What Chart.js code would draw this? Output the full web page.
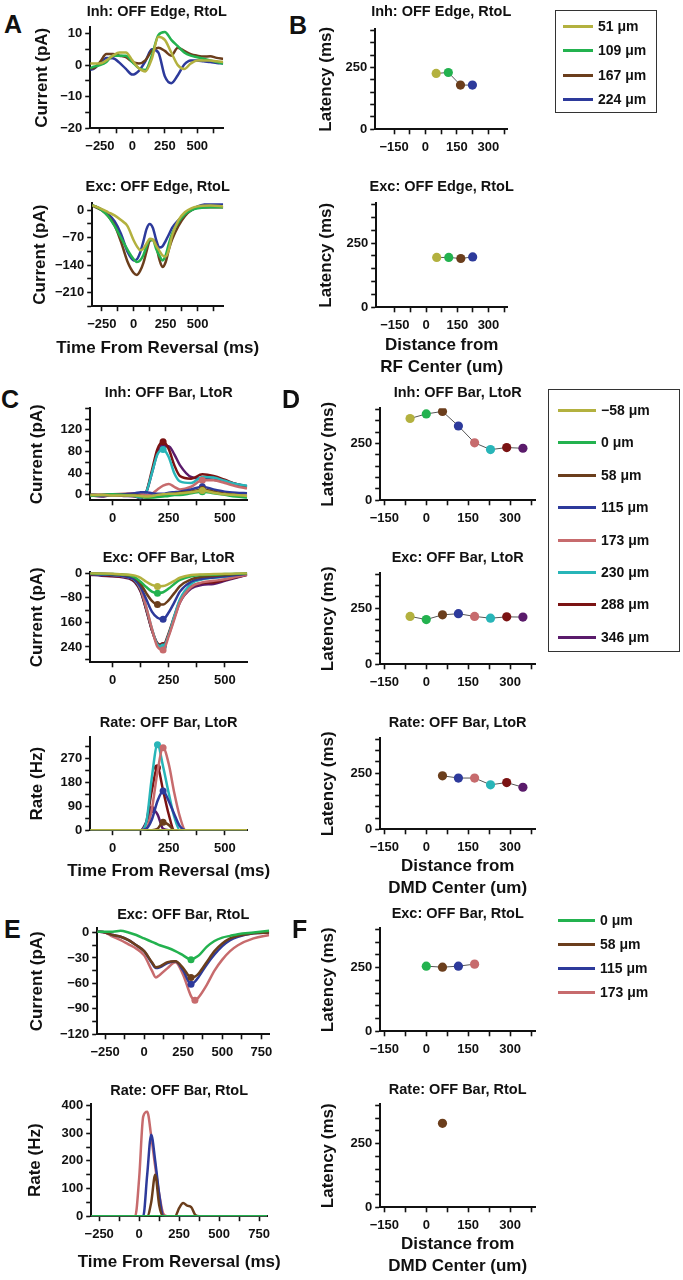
<!DOCTYPE html>
<html>
<head>
<meta charset="utf-8">
<script src="https://cdn.jsdelivr.net/npm/chart.js@4/dist/chart.umd.min.js"></script>
<style>
  body { margin: 0; background: #fff; }
  #page { position: relative; width: 683px; height: 1280px; overflow: hidden; background: #fff;
          font-family: "Liberation Sans", Arial, sans-serif; font-weight: bold; color: #111; }
  .box { position: absolute; }
  .letter { position: absolute; font-size: 25px; line-height: 26px; font-weight: bold; }
  .legend { position: absolute; box-sizing: border-box; }
  .legend .row { position: absolute; left: 0; height: 18px; font-size: 14px; line-height: 18px; white-space: nowrap; }
  .legend .swatch { position: absolute; top: 8px; height: 3px; }
</style>
</head>
<body>
<div id="page"></div>
<script>
// colours of the stimulus positions
const cOlive = '#b3b13f', cGreen = '#23b24f', cBrown = '#6b3e1c', cBlue = '#2d3a9b';
const cPink = '#c76b6d', cCyan = '#28b5b8', cDarkRed = '#7b1313', cPurple = '#5a1b6b';

// A / B : OFF edge, right to left
const edgeDist = [51, 109, 167, 224];
const edgeLabels = ['51 μm', '109 μm', '167 μm', '224 μm'];
const edgeColors = [cOlive, cGreen, cBrown, cBlue];

const timeInhEdge = [-325, -300, -250, -200, -150, -100, -50, 0, 50, 100, 150, 200, 250, 300, 350, 400, 450, 500, 550, 600, 650, 700];
const inhEdge51  = [0.5, 0.5, 0.5, 1.5, 3, 4, 4, 1.5, -1, -2, 2, 9, 8, 4, 0, -1.2, 0.5, 1.5, 1.5, 1.5, 1.2, 1];
const inhEdge109 = [-1, -0.5, 0, 1, 3, 3, 3, 1, -1, -1.5, 3, 9.5, 10.5, 8, 6, 4, 3, 2.5, 2, 1.5, 1, 0.5];
const inhEdge167 = [-1, -1, 1, 3.5, 3.5, 3, 2.5, 1, 0.5, 1.5, 4.5, 5.5, 4.5, 3, 5.5, 4.5, 3.5, 3, 2.7, 2.8, 2.3, 2];
const inhEdge224 = [-1.5, -1.2, 0.5, 2.3, 2.2, 0.8, -1.2, -3, -1.8, 1.2, 5, 4, -3.5, -5.7, -3.2, 0.2, 1.5, 1.5, 1.2, 1, 0.7, 0.5];

const timeExcEdge = [-325, -300, -250, -200, -150, -100, -50, 0, 25, 50, 75, 100, 125, 150, 175, 200, 225, 250, 275, 300, 350, 400, 450, 500, 600, 700];
const excEdge51  = [13, 10, 3, -5, -13, -25, -40, -77, -92, -102, -98, -85, -73, -75, -90, -103, -115, -118, -100, -65, -25, -5, 5, 10, 12, 10];
const excEdge109 = [13, 10, 0, -15, -40, -70, -100, -125, -132, -128, -115, -92, -75, -76, -98, -115, -128, -115, -85, -60, -30, -10, 0, 5, 8, 8];
const excEdge167 = [13, 8, 0, -15, -38, -80, -130, -160, -165, -155, -135, -105, -78, -75, -90, -125, -145, -132, -100, -75, -40, -15, 0, 7, 8, 8];
const excEdge224 = [13, 10, 2, -10, -28, -60, -105, -128, -125, -108, -80, -48, -35, -45, -75, -95, -92, -78, -62, -45, -25, -10, 0, 10, 17, 17];

const latInhEdge = [226, 230, 179, 179];
const latExcEdge = [194, 194, 190, 196];

// C / D : OFF bar, left to right
const barDist = [-58, 0, 58, 115, 173, 230, 288, 346];
const barLabels = ['−58 μm', '0 μm', '58 μm', '115 μm', '173 μm', '230 μm', '288 μm', '346 μm'];
const barColors = [cOlive, cGreen, cBrown, cBlue, cPink, cCyan, cDarkRed, cPurple];

const timeInhBar = [-100, -50, 0, 50, 100, 125, 150, 175, 200, 225, 250, 275, 300, 350, 400, 450, 500, 550, 600];
const inhBarM58 = [0, 0, -1, -1, -1, -2, -3, -2, 0, 1, 2, 2, 3, 5, 8, 4, 1, 0, -2];
const inhBar0   = [-2, 0, 1, 0, -2, -3, -5, -5, -4, -3, -2, 0, 0, 3, 6, 3, 0, -3, -5];
const inhBar58  = [0, 0, 0, 0, 0, -2, -5, -4, -2, 0, 0, 2, 4, 6, 10, 6, 2, 0, -2];
const inhBar115 = [0, -1, 0, 1, 3, 5, 5, 3, 2, 2, 4, 5, 6, 10, 15, 10, 6, 4, 3];
const inhBar173 = [0, 0, 1, 2, 3, 2, 0, 2, 10, 17, 20, 15, 10, 15, 27, 27, 22, 16, 12];
const inhBar230 = [0, -1, 0, 1, -2, -5, 5, 40, 75, 84, 70, 40, 25, 22, 33, 32, 26, 20, 17];
const inhBar288 = [0, 0, 0, 0, -2, -5, 5, 45, 85, 98, 85, 55, 35, 30, 38, 35, 28, 20, 15];
const inhBar346 = [-1, -3, 0, -2, -3, -6, 5, 40, 78, 90, 90, 75, 55, 33, 30, 28, 25, 20, 16];

const timeExcBar = [-100, -50, 0, 50, 75, 100, 125, 150, 175, 200, 225, 250, 275, 300, 350, 400, 450, 500, 550, 600];
const excBarM58 = [0, -1, -2, -4, -5, -8, -15, -28, -38, -43, -42, -35, -25, -15, -6, -4, -3, -2, -1, 0];
const excBar0   = [-1, -2, -3, -5, -7, -14, -28, -45, -60, -65, -62, -50, -35, -22, -10, -6, -5, -3, -2, 0];
const excBar58  = [-1, -2, -3, -6, -8, -15, -35, -65, -90, -102, -102, -88, -65, -42, -20, -12, -9, -6, -3, -1];
const excBar115 = [-2, -4, -6, -10, -14, -22, -45, -85, -125, -145, -150, -128, -95, -60, -28, -18, -14, -10, -6, -2];
const excBar173 = [0, -2, -5, -10, -14, -22, -50, -110, -180, -240, -250, -205, -150, -95, -45, -30, -25, -20, -12, -5];
const excBar230 = [-2, -4, -6, -10, -14, -24, -52, -112, -180, -232, -240, -200, -140, -85, -35, -20, -15, -12, -8, -3];
const excBar288 = [-3, -6, -9, -12, -16, -28, -58, -118, -185, -228, -235, -195, -140, -90, -45, -32, -30, -22, -13, -5];
const excBar346 = [-5, -8, -10, -14, -18, -30, -60, -120, -185, -230, -238, -200, -145, -95, -50, -38, -35, -25, -15, -5];

const timeRateBar = [-100, 0, 100, 125, 150, 175, 200, 225, 250, 275, 300, 325, 350, 400, 500, 600];
const rateBarM58 = [0, 0, 0, 0, 0, 0, 0, 0, 0, 0, 0, 0, 0, 0, 0, 0];
const rateBar0   = [0, 0, 0, 0, 0, 0, 0, 0, 0, 0, 0, 0, 0, 0, 0, 0];
const rateBar58  = [0, 0, 0, 0, 0, 0, 5, 30, 20, 0, 0, 0, 0, 0, 0, 0];
const rateBar115 = [0, 0, 0, 0, 5, 40, 110, 148, 110, 60, 15, 0, 0, 0, 0, 0];
const rateBar173 = [0, 0, 0, 0, 5, 80, 220, 310, 250, 140, 50, 0, 0, 0, 0, 0];
const rateBar230 = [0, 0, 0, 0, 30, 200, 322, 240, 140, 50, 0, 0, 0, 0, 0, 0];
const rateBar288 = [0, 0, 0, 0, 30, 150, 235, 150, 60, 0, 0, 0, 0, 0, 0, 0];
const rateBar346 = [0, 0, 0, 0, 30, 78, 60, 5, 0, 0, 0, 0, 0, 0, 0, 0];

const latInhBar  = [360, 380, 391, 327, 253, 223, 232, 229];
const latExcBar  = [213, 199, 220, 225, 213, 205, 211, 210];
const latRateBar = [null, null, 238, 228, 228, 198, 208, 187];

// E / F : OFF bar, right to left
const rtlDist = [0, 58, 115, 173];
const rtlLabels = ['0 μm', '58 μm', '115 μm', '173 μm'];
const rtlColors = [cGreen, cBrown, cBlue, cPink];

const timeExcRtl = [-300, -250, -200, -150, -100, -50, 0, 50, 75, 100, 150, 200, 250, 300, 325, 350, 400, 450, 500, 550, 600, 700, 800];
const excRtl0   = [1, 1, 1, 2, 0, -3, -7, -11, -13, -15, -18, -22, -27, -32, -30, -27, -17, -10, -6, -4, -2, 0, 2];
const excRtl58  = [1, 0, -3, -5, -9, -15, -22, -35, -41, -40, -35, -34, -42, -53, -52, -48, -35, -22, -13, -7, -4, -1, 0];
const excRtl115 = [1, 0, -3, -5, -9, -15, -22, -36, -42, -41, -36, -34, -45, -61, -58, -52, -38, -26, -16, -9, -5, -1, 0];
const excRtl173 = [1, 0, -5, -9, -14, -19, -27, -45, -53, -50, -42, -35, -50, -75, -80, -76, -62, -45, -32, -22, -15, -7, -3];

const timeRateRtl = [-300, -50, -25, 0, 25, 50, 75, 100, 125, 150, 175, 200, 225, 250, 275, 300, 325, 350, 375, 400, 600, 800];
const rateRtl0   = [0, 0, 0, 0, 0, 0, 0, 0, 0, 0, 0, 0, 0, 0, 0, 0, 0, 0, 0, 0, 0, 0];
const rateRtl58  = [0, 0, 0, 0, 0, 0, 50, 150, 40, 0, 0, 0, 0, 30, 48, 38, 33, 5, 0, 0, 0, 0];
const rateRtl115 = [0, 0, 0, 0, 0, 150, 295, 200, 80, 0, 0, 0, 0, 0, 0, 0, 0, 0, 0, 0, 0, 0];
const rateRtl173 = [0, 0, 0, 140, 360, 378, 290, 180, 80, 10, 0, 0, 0, 0, 0, 0, 0, 0, 0, 0, 0, 0];

const latExcRtl  = [256, 252, 256, 264];
const latRateRtl = [null, 330, null, null];

// axes: ranges, tick positions and tick labels
const xEdge = { min: -325, max: 700, ticks: [-250, -125, 0, 125, 250, 375, 500, 625], labels: ['−250', '', '0', '', '250', '', '500', ''] };
const yInhEdge = { min: -20, max: 12, ticks: [-20, -15, -10, -5, 0, 5, 10], labels: ['−20', '', '−10', '', '0', '', '10'] };
const yExcEdge = { min: -245, max: 18, ticks: [-245, -210, -175, -140, -105, -70, -35, 0], labels: ['', '−210', '', '−140', '', '−70', '', '0'] };
const xBar = { min: -100, max: 600, ticks: [0, 125, 250, 375, 500], labels: ['0', '', '250', '', '500'] };
const yInhBar = { min: -10, max: 160, ticks: [0, 20, 40, 60, 80, 100, 120, 140, 160], labels: ['0', '', '40', '', '80', '', '120', '', ''] };
const yExcBar = { min: -290, max: 3, ticks: [-280, -240, -200, -160, -120, -80, -40, 0], labels: ['', '240', '', '160', '', '−80', '', '0'] };
const yRateBar = { min: 0, max: 350, ticks: [0, 45, 90, 135, 180, 225, 270, 315], labels: ['0', '', '90', '', '180', '', '270', ''] };
const xRtl = { min: -300, max: 800, ticks: [-250, -125, 0, 125, 250, 375, 500, 625, 750], labels: ['−250', '', '0', '', '250', '', '500', '', '750'] };
const yExcRtl = { min: -120, max: 5, ticks: [-120, -105, -90, -75, -60, -45, -30, -15, 0], labels: ['−120', '', '−90', '', '−60', '', '−30', '', '0'] };
const yRateRtl = { min: 0, max: 405, ticks: [0, 50, 100, 150, 200, 250, 300, 350, 400], labels: ['0', '', '100', '', '200', '', '300', '', '400'] };
const xDistEdge = { min: -240, max: 390, ticks: [-150, -75, 0, 75, 150, 225, 300, 375], labels: ['−150', '', '0', '', '150', '', '300', ''] };
const xDistBar = { min: -165, max: 390, ticks: [-150, -75, 0, 75, 150, 225, 300, 375], labels: ['−150', '', '0', '', '150', '', '300', ''] };
const yLat = { min: 0, max: 405, ticks: [0, 50, 100, 150, 200, 250, 300, 350, 400], labels: ['0', '', '', '', '', '250', '', '', ''] };

const FONT = '"Liberation Sans", Arial, sans-serif';
const INK = '#111';
const AXIS_FONT = 17;          // axis titles
const AXIS_LH = AXIS_FONT * 1.2;
Chart.defaults.font.family = FONT;
Chart.defaults.font.weight = 'bold';
Chart.defaults.color = INK;

const page = document.getElementById('page');

function axisOpts(spec, pos, size, title) {
  return {
    type: 'linear', position: pos, min: spec.min, max: spec.max,
    afterBuildTicks: s => { s.ticks = spec.ticks.map(v => ({ value: v })); },
    afterFit: s => { if (pos === 'left') s.width = size; else s.height = size; },
    ticks: {
      autoSkip: false, maxRotation: 0, color: INK,
      padding: pos === 'left' ? 3 : 5,
      font: { size: 13, weight: 'bold' },
      callback: (v, i) => spec.labels[i]
    },
    grid: { drawOnChartArea: false, drawTicks: true, tickLength: 5, tickWidth: 1.6, tickColor: INK },
    border: { display: true, color: INK, width: 2 },
    title: title ? { display: true, text: title, color: INK, padding: 0, font: { size: AXIS_FONT, weight: 'bold', lineHeight: 1.2 } }
                 : { display: false }
  };
}

// c.plot = [left, top, right, bottom] of the plotting area on the page
// c.ytx = centre x of the y-axis title, c.dt = distance from chart title to plot top
function addChart(c) {
  const [L, T, R, B] = c.plot;
  const xh = 30;
  const yw = L - c.ytx + AXIS_LH / 2;
  const titleH = c.dt + 7.25;
  let subH = 0;
  let sub = { display: false };
  if (c.xTitle) {
    const lines = Array.isArray(c.xTitle) ? c.xTitle.length : 1;
    const lh = lines > 1 ? 22 : AXIS_LH;
    const padTop = c.xTitleY - (B + xh) - lh / 2;
    subH = padTop + lines * lh + 4;
    sub = { display: true, position: 'bottom', fullSize: true, text: c.xTitle, color: INK,
            font: { size: AXIS_FONT, weight: 'bold', lineHeight: lh / AXIS_FONT }, padding: { top: padTop, bottom: 4 } };
  }
  const left = L - yw, top = T - titleH;
  const box = document.createElement('div');
  box.className = 'box';
  box.style.left = left + 'px';
  box.style.top = top + 'px';
  box.style.width = (R - L + 2 * yw) + 'px';
  box.style.height = (B - top + xh + subH) + 'px';
  const cv = document.createElement('canvas');
  box.appendChild(cv);
  page.appendChild(box);
  return new Chart(cv, {
    type: 'line',
    data: { datasets: c.datasets },
    options: {
      responsive: true, maintainAspectRatio: false, animation: false,
      layout: { padding: 0 },
      plugins: {
        legend: { display: false }, tooltip: { enabled: false },
        title: {
          display: true, text: c.title, fullSize: true, color: INK,
          font: { size: 14.5, weight: 'bold', lineHeight: 1 },
          padding: { top: 0, bottom: c.dt - 7.25 }
        },
        subtitle: sub
      },
      scales: {
        x: axisOpts(c.x, 'bottom', xh, null),
        y: axisOpts(c.y, 'left', yw, c.yTitle),
        // empty right-hand gutter, same width as the y axis, keeps titles centred on the plot
        gutter: {
          type: 'linear', position: 'right', display: true,
          grid: { display: false, drawTicks: false }, border: { display: false }, ticks: { display: false },
          afterFit: s => { s.width = yw; }
        }
      }
    }
  });
}

function extremeIndex(ys, sign) {
  let best = -1, bv = 0;
  ys.forEach((v, i) => { if (v * sign > bv) { bv = v * sign; best = i; } });
  return best;
}

function traces(t, series, colors, mark) {
  return series.map((ys, k) => {
    const mi = mark ? extremeIndex(ys, mark) : -1;
    return {
      data: t.map((x, i) => ({ x: x, y: ys[i] })),
      borderColor: colors[k], backgroundColor: colors[k],
      borderWidth: 2.5, cubicInterpolationMode: 'monotone', fill: false,
      pointRadius: ys.map((v, i) => (i === mi ? 3.5 : 0)), pointBorderWidth: 0
    };
  });
}

function latencyLine(dist, lat, colors) {
  const pts = [], cols = [];
  dist.forEach((d, i) => { if (lat[i] !== null) { pts.push({ x: d, y: lat[i] }); cols.push(colors[i]); } });
  return [{
    data: pts, borderColor: '#555', borderWidth: 1, tension: 0,
    pointRadius: 4.6, pointBackgroundColor: cols, pointBorderColor: cols, pointBorderWidth: 0
  }];
}

const timeTitle = 'Time From Reversal (ms)';

// ---- left column: currents and rates ----
addChart({ plot: [90, 27, 223, 128], ytx: 42, dt: 15, title: 'Inh: OFF Edge, RtoL',
  x: xEdge, y: yInhEdge, yTitle: 'Current (pA)',
  datasets: traces(timeInhEdge, [inhEdge51, inhEdge109, inhEdge167, inhEdge224], edgeColors, 0) });
addChart({ plot: [92, 203, 223, 306], ytx: 40, dt: 16, title: 'Exc: OFF Edge, RtoL',
  x: xEdge, y: yExcEdge, yTitle: 'Current (pA)', xTitle: timeTitle, xTitleY: 348,
  datasets: traces(timeExcEdge, [excEdge51, excEdge109, excEdge167, excEdge224], edgeColors, 0) });

addChart({ plot: [90, 408, 247, 500], ytx: 37, dt: 15, title: 'Inh: OFF Bar, LtoR',
  x: xBar, y: yInhBar, yTitle: 'Current (pA)',
  datasets: traces(timeInhBar, [inhBarM58, inhBar0, inhBar58, inhBar115, inhBar173, inhBar230, inhBar288, inhBar346], barColors, 1) });
addChart({ plot: [90, 572, 247, 662], ytx: 37, dt: 14, title: 'Exc: OFF Bar, LtoR',
  x: xBar, y: yExcBar, yTitle: 'Current (pA)',
  datasets: traces(timeExcBar, [excBarM58, excBar0, excBar58, excBar115, excBar173, excBar230, excBar288, excBar346], barColors, -1) });
addChart({ plot: [90, 737, 247, 830], ytx: 37, dt: 14, title: 'Rate: OFF Bar, LtoR',
  x: xBar, y: yRateBar, yTitle: 'Rate (Hz)', xTitle: timeTitle, xTitleY: 871,
  datasets: traces(timeRateBar, [rateBarM58, rateBar0, rateBar58, rateBar115, rateBar173, rateBar230, rateBar288, rateBar346], barColors, 1) });

addChart({ plot: [97, 928, 269, 1034], ytx: 37, dt: 13, title: 'Exc: OFF Bar, RtoL',
  x: xRtl, y: yExcRtl, yTitle: 'Current (pA)',
  datasets: traces(timeExcRtl, [excRtl0, excRtl58, excRtl115, excRtl173], rtlColors, -1) });
addChart({ plot: [91, 1104, 267, 1216], ytx: 35, dt: 13, title: 'Rate: OFF Bar, RtoL',
  x: xRtl, y: yRateRtl, yTitle: 'Rate (Hz)', xTitle: timeTitle, xTitleY: 1262,
  datasets: traces(timeRateRtl, [rateRtl0, rateRtl58, rateRtl115, rateRtl173], rtlColors, 0) });

// ---- right column: latency vs distance ----
addChart({ plot: [375, 29, 507, 129], ytx: 326, dt: 17, title: 'Inh: OFF Edge, RtoL',
  x: xDistEdge, y: yLat, yTitle: 'Latency (ms)',
  datasets: latencyLine(edgeDist, latInhEdge, edgeColors) });
addChart({ plot: [376, 203, 507, 307], ytx: 326, dt: 16, title: 'Exc: OFF Edge, RtoL',
  x: xDistEdge, y: yLat, yTitle: 'Latency (ms)', xTitle: ['Distance from', 'RF Center (um)'], xTitleY: 345,
  datasets: latencyLine(edgeDist, latExcEdge, edgeColors) });

addChart({ plot: [380, 408, 535, 500], ytx: 328, dt: 15, title: 'Inh: OFF Bar, LtoR',
  x: xDistBar, y: yLat, yTitle: 'Latency (ms)',
  datasets: latencyLine(barDist, latInhBar, barColors) });
addChart({ plot: [380, 573, 535, 664], ytx: 328, dt: 15, title: 'Exc: OFF Bar, LtoR',
  x: xDistBar, y: yLat, yTitle: 'Latency (ms)',
  datasets: latencyLine(barDist, latExcBar, barColors) });
addChart({ plot: [380, 738, 535, 829], ytx: 328, dt: 15, title: 'Rate: OFF Bar, LtoR',
  x: xDistBar, y: yLat, yTitle: 'Latency (ms)', xTitle: ['Distance from', 'DMD Center (um)'], xTitleY: 866,
  datasets: latencyLine(barDist, latRateBar, barColors) });

addChart({ plot: [380, 928, 535, 1031], ytx: 328, dt: 14, title: 'Exc: OFF Bar, RtoL',
  x: xDistBar, y: yLat, yTitle: 'Latency (ms)',
  datasets: latencyLine(rtlDist, latExcRtl, rtlColors) });
addChart({ plot: [380, 1104, 535, 1207], ytx: 328, dt: 14, title: 'Rate: OFF Bar, RtoL',
  x: xDistBar, y: yLat, yTitle: 'Latency (ms)', xTitle: ['Distance from', 'DMD Center (um)'], xTitleY: 1244,
  datasets: latencyLine(rtlDist, latRateRtl, rtlColors) });

// ---- legends ----
function addLegend(left, top, width, height, firstRow, gap, lineX, labels, colors, framed) {
  const lg = document.createElement('div');
  lg.className = 'legend';
  lg.style.left = left + 'px';
  lg.style.top = top + 'px';
  lg.style.width = width + 'px';
  lg.style.height = height + 'px';
  if (framed) lg.style.border = '1px solid #333';
  labels.forEach((txt, i) => {
    const row = document.createElement('div');
    row.className = 'row';
    row.style.top = (firstRow + i * gap - top - 9) + 'px';
    row.style.width = width + 'px';
    const sw = document.createElement('div');
    sw.className = 'swatch';
    sw.style.left = (lineX[0] - left) + 'px';
    sw.style.width = (lineX[1] - lineX[0]) + 'px';
    sw.style.background = colors[i];
    const tx = document.createElement('span');
    tx.textContent = txt;
    tx.style.position = 'absolute';
    tx.style.left = (lineX[1] - left + 5) + 'px';
    row.appendChild(sw);
    row.appendChild(tx);
    lg.appendChild(row);
  });
  page.appendChild(lg);
}
addLegend(555, 10, 102, 103, 25, 24.4, [562, 592], edgeLabels, edgeColors, true);
addLegend(548, 389, 132, 263, 409, 32.4, [557, 595], barLabels, barColors, true);
addLegend(555, 905, 110, 100, 920, 24, [558, 595], rtlLabels, rtlColors, false);

// ---- panel letters ----
[['A', 4, 11], ['B', 289, 12], ['C', 1, 386], ['D', 282, 386], ['E', 4, 916], ['F', 292, 916]].forEach(([ch, x, y]) => {
  const d = document.createElement('div');
  d.className = 'letter';
  d.textContent = ch;
  d.style.left = x + 'px';
  d.style.top = y + 'px';
  page.appendChild(d);
});
</script>
</body>
</html>
